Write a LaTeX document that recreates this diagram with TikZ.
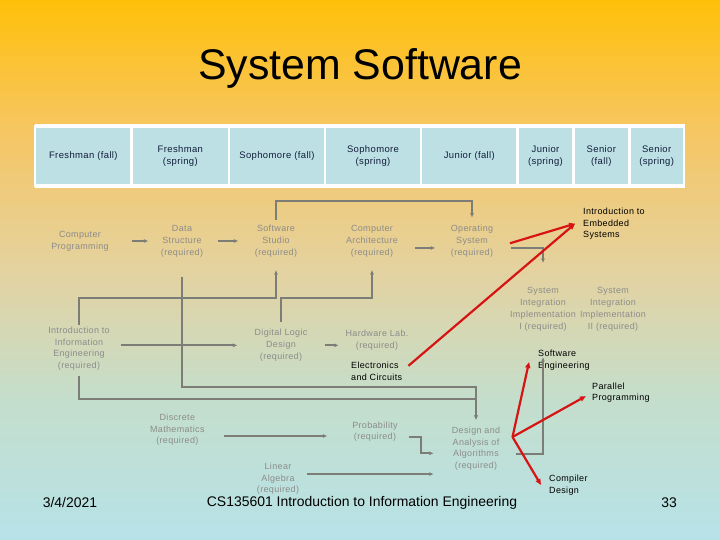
\documentclass[tikz,border=0pt]{standalone}
\usepackage{fontspec}
\setmainfont{Liberation Sans}
\newfontfamily\slidefont[LetterSpace=4]{Liberation Sans}
\usepackage{tikz}
\usetikzlibrary{arrows.meta}

\definecolor{bgtop}{RGB}{255,192,10}
\definecolor{bghigh}{RGB}{246,198,98}
\definecolor{bgmid}{RGB}{228,210,160}
\definecolor{bglow}{RGB}{196,222,204}
\definecolor{bgbot}{RGB}{183,226,232}
\definecolor{cellblue}{RGB}{188,224,228}
\definecolor{semtext}{RGB}{20,30,60}
\definecolor{coursegray}{RGB}{140,140,138}
\definecolor{linkgray}{RGB}{125,125,120}
\definecolor{advred}{RGB}{215,20,20}

\pgfdeclareverticalshading{slidebg}{100bp}{color(0bp)=(bgbot); color(25bp)=(bgbot);
  color(37.96bp)=(bglow); color(50bp)=(bgmid); color(62.96bp)=(bghigh);
  color(75bp)=(bgtop); color(100bp)=(bgtop)}

\tikzset{
  semcell/.style={fill=cellblue, draw=white, line width=2.5bp, minimum height=59,
    inner sep=0pt, align=center, text=semtext, font=\slidefont\fontsize{9.5}{12}\selectfont},
  course/.style={align=center, inner sep=1pt, text=coursegray,
    font=\slidefont\fontsize{9}{12}\selectfont},
  note/.style={align=left, anchor=west, inner sep=0pt,
    font=\slidefont\fontsize{9}{12}\selectfont},
  foot/.style={font=\fontsize{14}{16}\selectfont},
  req/.style={draw=linkgray, line width=2bp, -{Latex[length=4.5pt,width=4pt]}},
  adv/.style={draw=advred, line width=2.2bp, -{Triangle[length=6pt,width=5pt]}}
}

\begin{document}
\begin{tikzpicture}[x=1bp,y=-1bp]
%% background
\shade[shading=slidebg] (0,0) rectangle (720,540);
\useasboundingbox (0,0) rectangle (720,540);
\node[font=\fontsize{43}{50}\selectfont] (title) at (360,68) {System Software};

%% semesters
\fill[white] (35,124.5) rectangle (684.5,188);
\foreach \xa/\xb/\sem [count=\i] in {35/131.7/{Freshman (fall)}, 131.7/229/{Freshman\\(spring)},
    229/325/{Sophomore (fall)}, 325/421/{Sophomore\\(spring)}, 421/517.7/{Junior (fall)},
    517.7/573.3/{Junior\\(spring)}, 573.3/629.3/{Senior\\(fall)}, 629.3/684/{Senior\\(spring)}}
  \node[semcell, minimum width={\xb-\xa}] (sem\i) at ({(\xa+\xb)/2},156) {\sem};

%% courses
\node[course] (cp) at (80,241) {Computer\\Programming};
\node[course] (ds) at (182,241) {Data\\Structure\\(required)};
\node[course] (ss) at (276,241) {Software\\Studio\\(required)};
\node[course] (ca) at (372,241) {Computer\\Architecture\\(required)};
\node[course] (os) at (472,241) {Operating\\System\\(required)};
\node[course] (ie) at (79,348.7) {Introduction to\\Information\\Engineering\\(required)};
\node[course] (dl) at (281,345.3) {Digital Logic\\Design\\(required)};
\node[course] (hw) at (377,340) {Hardware Lab.\\(required)};
\node[course] (si1) at (543,309.7) {System\\Integration\\Implementation\\I (required)};
\node[course] (si2) at (613,309.7) {System\\Integration\\Implementation\\II (required)};
\node[course] (dm) at (177.3,429.7) {Discrete\\Mathematics\\(required)};
\node[course] (pr) at (375,431.7) {Probability\\(required)};
\node[course] (la) at (278,478.7) {Linear\\Algebra\\(required)};
\node[course] (daa) at (476,448.7) {Design and\\Analysis of\\Algorithms\\(required)};

%% advanced topics
\node[note] (emb) at (583,223.7) {Introduction to\\Embedded\\Systems};
\node[note] (ec) at (351,371) {Electronics\\and Circuits};
\node[note] (se) at (538,360) {Software\\Engineering};
\node[note] (pp) at (592,392.7) {Parallel\\Programming};
\node[note] (cd) at (549,485) {Compiler\\Design};
\coordinate (fan) at (512.5,437);

%% footer
\node[foot] (date) at (70,503) {3/4/2021};
\node[foot] (course) at (362,503) {CS135601 Introduction to Information Engineering};
\node[foot] (page) at (669,503) {33};

%% prerequisites
\draw[req, shorten <=22.5, shorten >=11.4] (cp.east) -- (ds.west);
\draw[req, shorten <=13.4, shorten >=15.4] (ds.east) -- (ss.west);
\draw[req, shorten <=16.3, shorten >=14.4] ([yshift=-7pt]ca.east) -- ([yshift=-7pt]os.west);
\draw[req, shorten <=4, shorten >=6] (ss.north) -- (ss.north |- 0,201) -| (os.north);
\draw[req, shorten >=11.7] (ie.north) -- (ie.north |- 0,298) -| (ss.south);
\draw[req, shorten <=6, shorten >=11.7] (dl.north) -- (dl.north |- 0,298) -| (ca.south);
\draw[req, shorten <=9.7, shorten >=16] (ie.east |- dl.west) -- (dl.west);
\draw[req, shorten <=16.6, shorten >=5.7] (dl.east) -- (dl.east -| hw.west);
\draw[req, shorten <=18.7, shorten >=5.5] (ds.south) -- (ds.south |- 0,387) -| (daa.north);
\draw[req, shorten <=4, shorten >=5.5] (ie.south) -- (ie.south |- 0,399) -| (daa.north);
\draw[req, shorten <=18.7, shorten >=23.8] ([yshift=-6.3pt]dm.east) -- ([yshift=-6.3pt]dm.east -| pr.west);
\draw[req, shorten >=17] ([xshift=10pt,yshift=-5.3pt]pr.east) -- ++(12,0) |- ([yshift=-4.6pt]daa.west);
\draw[req, shorten <=6.3, shorten >=17] ([yshift=4.7pt]la.east) -- ([yshift=4.7pt]la.east -| daa.west);
\draw[req, shorten <=16.4, shorten >=23.5] ([yshift=-7pt]os.east) -| (si1.north);
\draw[req, shorten <=14.7] ([yshift=-5.3pt]daa.east) -| ([xshift=5pt,yshift=3pt]se.west);

%% leads to
\draw[adv, shorten <=16.4] ([yshift=-7pt]os.east) -- ([xshift=-8pt]emb.west);
\draw[adv, shorten <=8] (ec.east) -- ([xshift=-8pt]emb.west);
\draw[adv] (fan) -- ([xshift=-9pt,yshift=-2pt]se.west);
\draw[adv, shorten >=7] (fan) -- (pp.west);
\draw[adv] (fan) -- ([xshift=-8pt]cd.west);
\end{tikzpicture}
\end{document}
